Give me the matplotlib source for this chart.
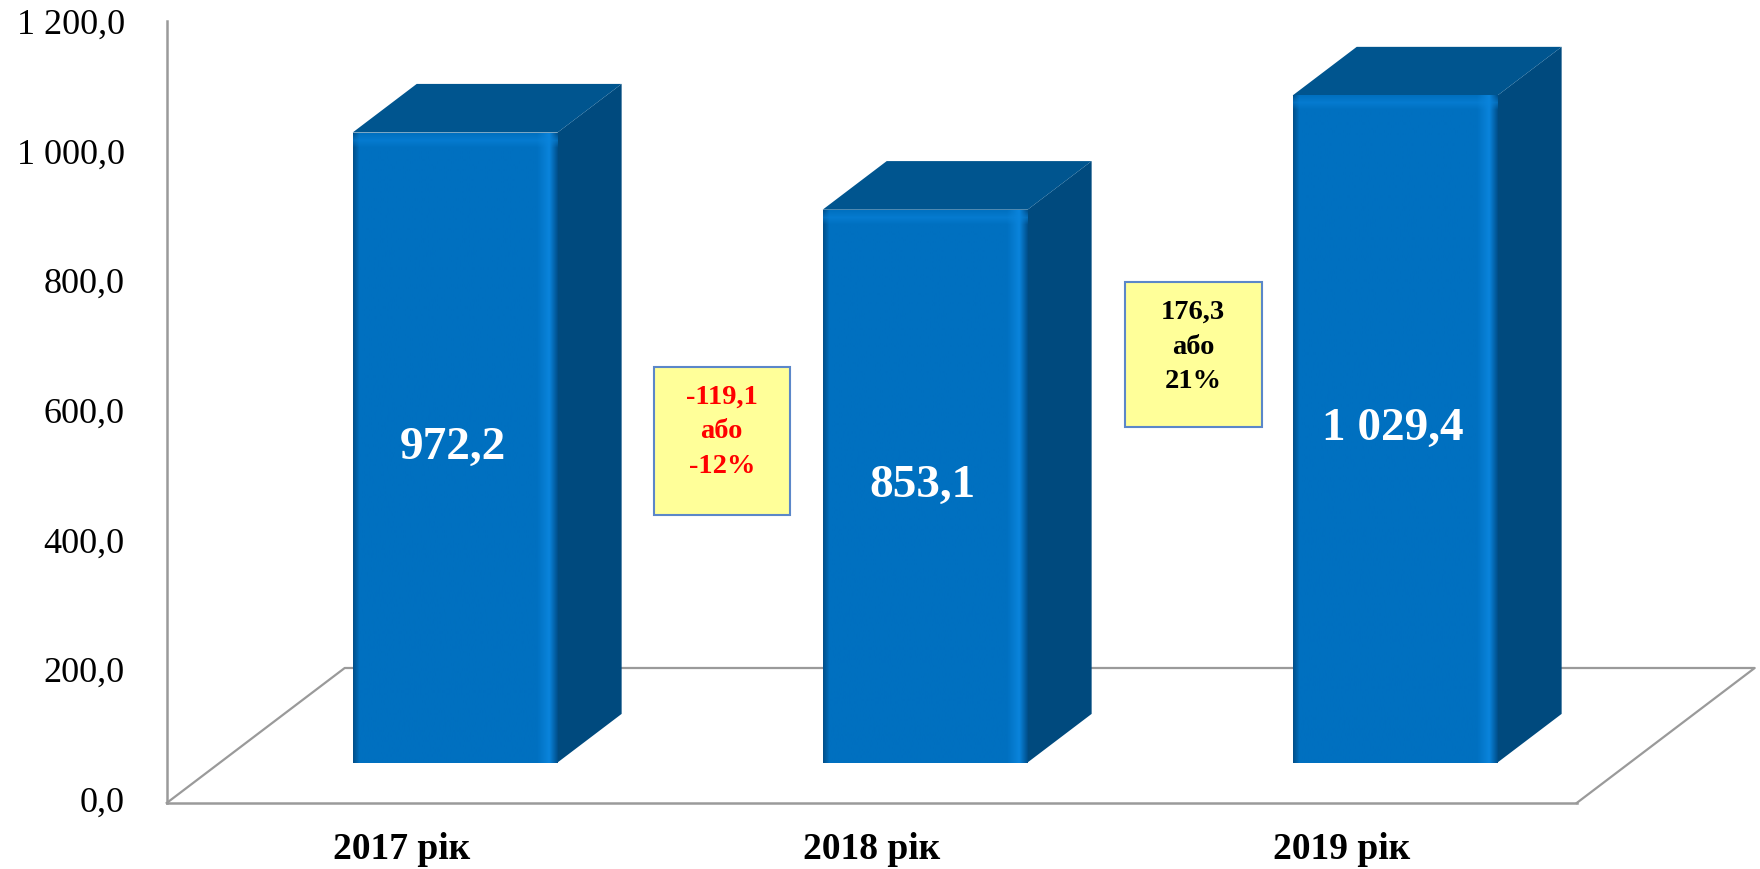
import numpy as np
import matplotlib.pyplot as plt
from matplotlib.patches import Polygon, Rectangle
from matplotlib.colors import to_rgb

plt.rcParams['font.family'] = ['Liberation Serif', 'DejaVu Serif']

# data
categories = ['2017 рік', '2018 рік', '2019 рік']
values = [972.2, 853.1, 1029.4]
value_labels = ['972,2', '853,1', '1 029,4']
y_ticks = [0, 200, 400, 600, 800, 1000, 1200]
y_tick_labels = ['0,0', '200,0', '400,0', '600,0', '800,0', '1 000,0', '1 200,0']
delta_texts = ['-119,1\nабо\n-12%', '176,3\nабо\n21%']
delta_colors = ['#FF0000', '#000000']
# box between bars: (x_left, x_right, y_bottom, y_top) in axis units
delta_boxes = [(0.536, 0.826, 444, 673), (1.538, 1.830, 580, 804)]

# geometry of the pseudo 3D view
px_per_cat = 470.0
px_per_unit = 0.648
floor_dx, floor_dy = 178 / px_per_cat, 135 / px_per_unit   # full floor depth
front_frac, back_frac = 0.30, 0.66
bar_w = 0.436

fig = plt.figure(figsize=(17.6, 8.69), dpi=100)
ax = fig.add_axes([0, 0, 1, 1])
xmin = -0.5 - 166.7 / px_per_cat
ymin = -66 / px_per_unit
ax.set_xlim(xmin, xmin + 1760 / px_per_cat)
ax.set_ylim(ymin, ymin + 869 / px_per_unit)
ax.axis('off')

grey = '#9A9A9A'
n = len(categories)
x_left, x_right = -0.5, n - 0.5
# floor (back edges behind bars)
ax.plot([x_left, x_left + floor_dx, x_right + floor_dx, x_right],
        [0, floor_dy, floor_dy, 0], color=grey, lw=1.6, zorder=1)
ax.plot([x_left, x_right], [0, 0], color=grey, lw=1.8, zorder=1)
ax.plot([x_left, x_left], [0, 1207], color=grey, lw=1.8, zorder=1)

for t, lab in zip(y_ticks, y_tick_labels):
    ax.text(x_left - 42 / px_per_cat, t, lab, ha='right', va='center',
            fontsize=26, color='black')

for i, lab in enumerate(categories):
    ax.text(i, -72, lab, ha='center', va='center', fontsize=27,
            fontweight='bold', color='black')

front = np.array(to_rgb('#0070C0'))
edge_dark = np.array(to_rgb('#00508C'))
edge_light = np.array(to_rgb('#0A84DC'))
top_col = '#00558F'
side_col = '#004A7E'

ddx = (back_frac - front_frac) * floor_dx
ddy = (back_frac - front_frac) * floor_dy
base = front_frac * floor_dy

for i, v in enumerate(values):
    cx = i + front_frac * floor_dx
    x0, x1 = cx - bar_w / 2, cx + bar_w / 2
    y0, y1 = base, base + v
    # side and top faces
    ax.add_patch(Polygon([(x1, y0), (x1, y1), (x1 + ddx, y1 + ddy), (x1 + ddx, y0 + ddy)],
                         closed=True, facecolor=side_col, edgecolor='none', zorder=3))
    ax.add_patch(Polygon([(x0, y1), (x1, y1), (x1 + ddx, y1 + ddy), (x0 + ddx, y1 + ddy)],
                         closed=True, facecolor=top_col, edgecolor='none', zorder=3))
    # front face with bevel shading
    w = 200
    h = int(v * px_per_unit)
    t = np.linspace(0, 1, w)
    prof = np.tile(front, (w, 1))
    left = t < 0.03
    prof[left] = edge_dark + (front - edge_dark) * (t[left] / 0.03)[:, None]
    rr = (t > 0.90) & (t < 0.96)
    prof[rr] = front + (edge_light - front) * ((t[rr] - 0.90) / 0.06)[:, None]
    r2 = t >= 0.96
    prof[r2] = edge_light + (edge_dark - edge_light) * ((t[r2] - 0.96) / 0.04)[:, None]
    img = np.tile(prof, (h, 1, 1))
    band = 14
    for k in range(band):
        a = 0.55 * (1 - abs(k - band / 2) / (band / 2))
        img[k] = img[k] * (1 - a) + edge_light * a
    ax.imshow(img, extent=[x0, x1, y0, y1], origin='upper', aspect='auto',
              interpolation='bilinear', zorder=4)
    ax.text(cx - 0.005, base + v / 2, value_labels[i], ha='center', va='center',
            fontsize=34, fontweight='bold', color='white', zorder=6)

for (bx0, bx1, by0, by1), txt, col in zip(delta_boxes, delta_texts, delta_colors):
    ax.add_patch(Rectangle((bx0, by0), bx1 - bx0, by1 - by0, facecolor='#FFFF99',
                           edgecolor='#5B87C9', lw=1.5, zorder=5))
    ax.text((bx0 + bx1) / 2, by1 - 18 / px_per_unit, txt, ha='center', va='top',
            fontsize=20.5, fontweight='bold', color=col, linespacing=1.5, zorder=6)

ax.set_xlim(xmin, xmin + 1760 / px_per_cat)
ax.set_ylim(ymin, ymin + 869 / px_per_unit)
fig.savefig('out.png', dpi=100, facecolor='white')
